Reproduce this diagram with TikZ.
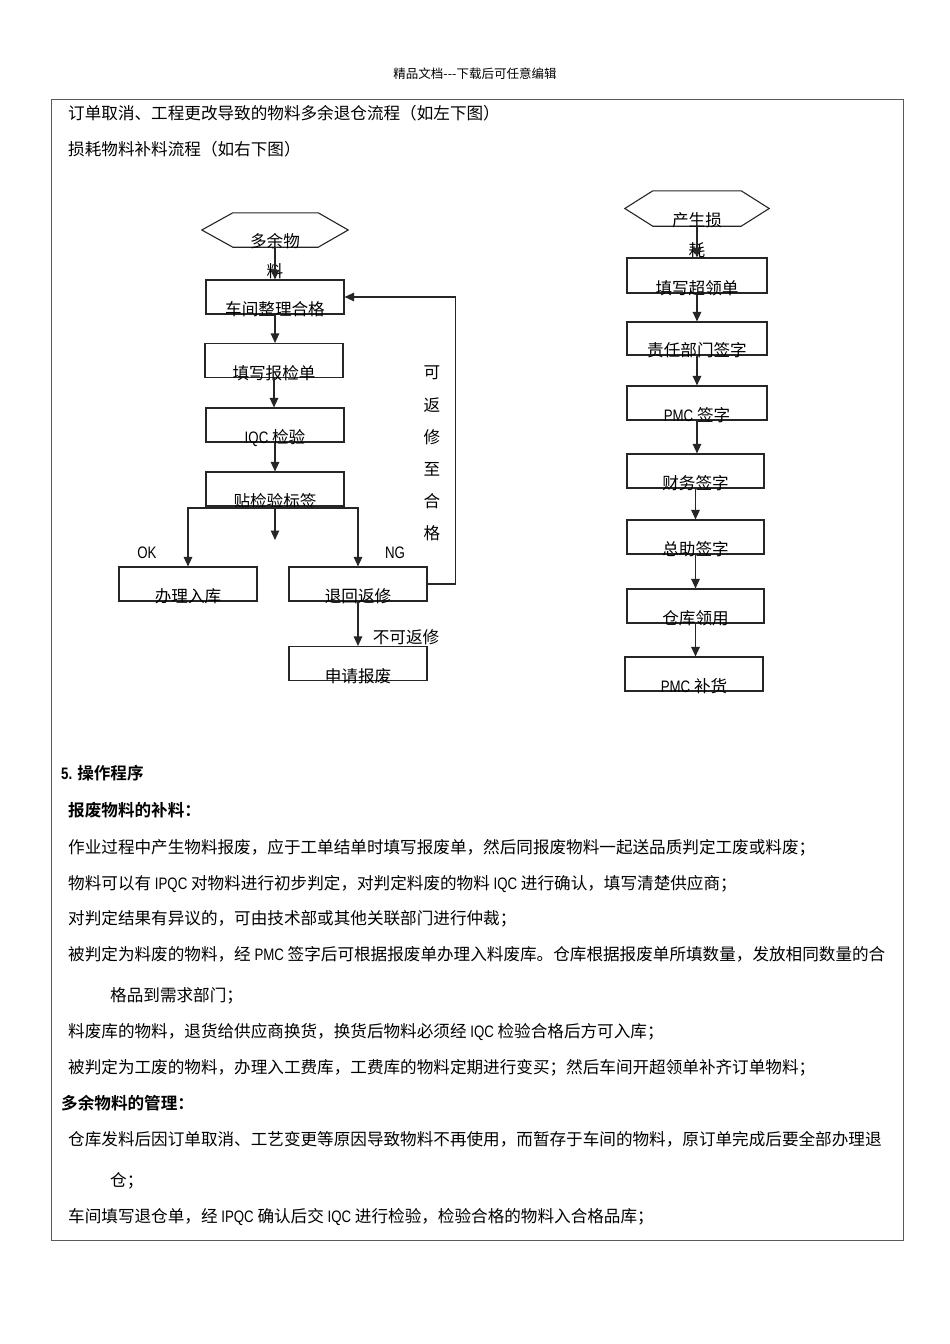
\documentclass[tikz,border=0pt]{standalone}
\usepackage{fontspec}
\setmainfont{Noto Sans CJK SC}[BoldFont={Noto Sans CJK SC Bold}]
\newfontfamily\latn{Liberation Sans}[FakeStretch=0.8]
\usetikzlibrary{arrows.meta}
\begin{document}
\begin{tikzpicture}[x=1pt,y=-1pt,
  ln/.style={draw=black!85,line width=1.1pt},
  box/.style={ln,rectangle,minimum width=138pt,minimum height=34pt,inner sep=0pt},
  hexarea/.style={rectangle,inner sep=0pt},
  tx/.style={font=\fontsize{16.6}{16.6}\selectfont,inner sep=0pt},
  btx/.style={font=\fontsize{16.6}{16.6}\selectfont\bfseries,inner sep=0pt},
  arr/.style={ln,-{Triangle[length=9.5pt,width=8.5pt]}}]
\useasboundingbox (0,0) rectangle (950,1344);
\fill[white] (0,0) rectangle (950,1344);
% header and frame
\node[font=\fontsize{12.5}{12.5}\selectfont,inner sep=0pt] (hdr) at (475,74) {精品文档-{}-{}-下载后可任意编辑};
\draw[draw=black!65,line width=0.9pt] (51,99) rectangle (903,1240);
% intro lines
\node[tx,anchor=base west] (l1) at (68,119.5) {订单取消、工程更改导致的物料多余退仓流程（如左下图）};
\node[tx,anchor=base west] (l2) at (68,155.5) {损耗物料补料流程（如右下图）};
% ---------- left flowchart ----------
\node[hexarea,minimum width=146pt,minimum height=34pt] (hx1) at (275,230) {};
\draw[ln] (hx1.west) -- ([xshift=31pt]hx1.north west) -- ([xshift=-30pt]hx1.north east) -- (hx1.east) -- ([xshift=-30pt]hx1.south east) -- ([xshift=31pt]hx1.south west) -- cycle;
\node[tx,anchor=base] (hx1t) at (hx1.south) {多余物};
\node[tx,anchor=base] (hx1u) at ([yshift=-30pt]hx1.south) {料};
\node[box] (b1) at (275,297) {};
\node[box] (b2) at (274,360.5) {};
\node[box] (b3) at (275,425) {};
\node[box] (b4) at (275,489) {};
\node[box] (ok) at (188,584) {};
\node[box] (ng) at (358,584) {};
\node[box] (sc) at (358,663.5) {};
\node[tx,anchor=base] (b1t) at ([yshift=-1pt]b1.south) {车间整理合格};
\node[tx,anchor=base] (b2t) at ([yshift=-1pt]b2.south) {填写报检单};
\node[tx,anchor=base] (b3t) at ([yshift=-1pt]b3.south) {{\latn IQC} 检验};
\node[tx,anchor=base] (b4t) at ([yshift=-1pt]b4.south) {贴检验标签};
\node[tx,anchor=base] (okt) at ([yshift=-1pt]ok.south) {办理入库};
\node[tx,anchor=base] (ngt) at ([yshift=-1pt]ng.south) {退回返修};
\node[tx,anchor=base] (sct) at ([yshift=-1pt]sc.south) {申请报废};
\draw[arr] (hx1.south) -- (b1.north);
\draw[arr] (b1.south) -- (b2.north -| b1.south);
\draw[arr] (b2.south) -- (b3.north -| b2.south);
\draw[arr] (b3.south) -- (b4.north);
\coordinate (split) at (275,508);
\coordinate (mid) at (275,540);
\draw[arr] (split) -| (ok.north);
\draw[arr] (split) -| (ng.north);
\draw[arr] (b4.south) -- (mid);
\draw[arr] (ng.east) -- ++(28,0) |- (b1.east);
\draw[arr] (ng.south) -- (sc.north);
\node[tx] (oklab) at (147,553) {\latn OK};
\node[tx] (nglab) at (395,553) {\latn NG};
\node[tx] (nrlab) at (406,637) {不可返修};
\foreach \c [count=\i] in {可,返,修,至,合,格}
  \node[tx] (v\i) at (432,{373+32*(\i-1)}) {\c};
% ---------- right flowchart ----------
\node[hexarea,minimum width=144pt,minimum height=35pt] (hx2) at (697,208.5) {};
\draw[ln] (hx2.west) -- ([xshift=28pt]hx2.north west) -- ([xshift=-28pt]hx2.north east) -- (hx2.east) -- ([xshift=-28pt]hx2.south east) -- ([xshift=28pt]hx2.south west) -- cycle;
\node[tx,anchor=base] (hx2t) at (hx2.south) {产生损};
\node[tx,anchor=base] (hx2u) at ([yshift=-30pt]hx2.south) {耗};
\node[box,minimum width=140pt,minimum height=35pt] (r1) at (697,275.5) {};
\node[box,minimum width=140pt,minimum height=33pt] (r2) at (697,338.5) {};
\node[box,minimum width=140pt] (r3) at (697,403) {};
\node[box,minimum width=137pt] (r4) at (695.5,471) {};
\node[box,minimum width=137pt] (r5) at (695.5,537) {};
\node[box,minimum width=137pt] (r6) at (695.5,606) {};
\node[box] (r7) at (694,674) {};
\node[tx,anchor=base] (r1t) at ([yshift=-1pt]r1.south) {填写超领单};
\node[tx,anchor=base] (r2t) at ([yshift=-1pt]r2.south) {责任部门签字};
\node[tx,anchor=base] (r3t) at ([yshift=-1pt]r3.south) {{\latn PMC} 签字};
\node[tx,anchor=base] (r4t) at ([yshift=-1pt]r4.south) {财务签字};
\node[tx,anchor=base] (r5t) at ([yshift=-1pt]r5.south) {总助签字};
\node[tx,anchor=base] (r6t) at ([yshift=-1pt]r6.south) {仓库领用};
\node[tx,anchor=base] (r7t) at ([yshift=-1pt]r7.south) {{\latn PMC} 补货};
\draw[arr] (hx2.south) -- (r1.north);
\draw[arr] (r1.south) -- (r2.north);
\draw[arr] (r2.south) -- (r3.north);
\draw[arr] (r3.south) -- (r4.north -| r3.south);
\draw[arr] (r4.south) -- (r5.north);
\draw[arr] (r5.south) -- (r6.north);
\draw[arr] (r6.south) -- (r7.north -| r6.south);
% ---------- text section ----------
\node[btx,anchor=base west] (s5) at (61,779.5) {{\latn\bfseries 5.} 操作程序};
\node[btx,anchor=base west] (h1) at (68,816.5) {报废物料的补料：};
\node[tx,anchor=base west] (p1) at (68,853.5) {作业过程中产生物料报废，应于工单结单时填写报废单，然后同报废物料一起送品质判定工废或料废；};
\node[tx,anchor=base west] (p2) at (68,889.5) {物料可以有 {\latn IPQC} 对物料进行初步判定，对判定料废的物料 {\latn IQC} 进行确认，填写清楚供应商；};
\node[tx,anchor=base west] (p3) at (68,924.5) {对判定结果有异议的，可由技术部或其他关联部门进行仲裁；};
\node[tx,anchor=base west] (p4) at (68,960.5) {被判定为料废的物料，经 {\latn PMC} 签字后可根据报废单办理入料废库。仓库根据报废单所填数量，发放相同数量的合};
\node[tx,anchor=base west] (p4b) at (110,1001.5) {格品到需求部门；};
\node[tx,anchor=base west] (p5) at (68,1037.5) {料废库的物料，退货给供应商换货，换货后物料必须经 {\latn IQC} 检验合格后方可入库；};
\node[tx,anchor=base west] (p6) at (68,1073.5) {被判定为工废的物料，办理入工费库，工费库的物料定期进行变买；然后车间开超领单补齐订单物料；};
\node[btx,anchor=base west] (h2) at (61,1109.5) {多余物料的管理：};
\node[tx,anchor=base west] (p7) at (68,1145.5) {仓库发料后因订单取消、工艺变更等原因导致物料不再使用，而暂存于车间的物料，原订单完成后要全部办理退};
\node[tx,anchor=base west] (p7b) at (110,1186.5) {仓；};
\node[tx,anchor=base west] (p8) at (68,1222.5) {车间填写退仓单，经 {\latn IPQC} 确认后交 {\latn IQC} 进行检验，检验合格的物料入合格品库；};
\end{tikzpicture}
\end{document}
